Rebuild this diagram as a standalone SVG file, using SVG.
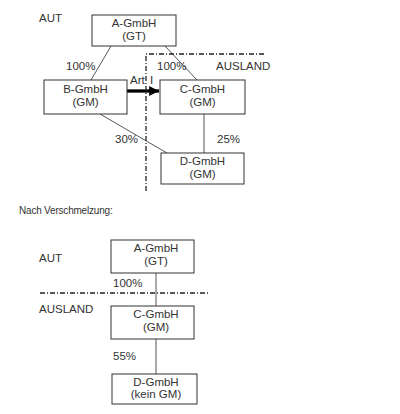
<svg xmlns="http://www.w3.org/2000/svg" width="400" height="414" viewBox="0 0 400 414">
<style>
text{font-family:"Liberation Sans",Arial,sans-serif;font-size:11.5px;fill:#333}
.c{text-anchor:middle}
.box{fill:#fff;stroke:#333;stroke-width:1}
.ln{stroke:#444;stroke-width:0.9;fill:none}
.dd{stroke:#222;stroke-width:1.3;stroke-dasharray:5,2,1,2;fill:none}
</style>
<defs>
<marker id="ah" markerWidth="3" markerHeight="3" refX="3" refY="1.5" orient="auto" markerUnits="strokeWidth"><path d="M0,0 L3,1.5 L0,3 z" fill="#000"/></marker>
</defs>
<rect width="400" height="414" fill="#fff"/>
<g id="connectors">
<line class="ln" x1="111" y1="46" x2="91" y2="80"/>
<line class="ln" x1="165" y1="46" x2="197" y2="80"/>
<line class="ln" x1="100" y1="114" x2="167" y2="153"/>
<line class="ln" x1="204" y1="114" x2="204" y2="153"/>
<line x1="127" y1="91" x2="159" y2="91" stroke="#000" stroke-width="3.3" marker-end="url(#ah)"/>
<line class="ln" x1="156" y1="273" x2="156" y2="306"/>
<line class="ln" x1="156" y1="339" x2="156" y2="374"/>
</g>
<g id="borders">
<polyline class="dd" points="146,191 146,54 265,54"/>
<line class="dd" x1="40" y1="293" x2="208" y2="293"/>
</g>
<g id="A1"><rect class="box" x="92" y="15" width="84" height="31"/><text class="c" x="134" y="27">A-GmbH</text><text class="c" x="134" y="40">(GT)</text></g>
<g id="B1"><rect class="box" x="44" y="80" width="83" height="34"/><text class="c" x="85.5" y="93">B-GmbH</text><text class="c" x="85.5" y="106">(GM)</text></g>
<g id="C1"><rect class="box" x="160" y="80" width="85" height="34"/><text class="c" x="202.5" y="93">C-GmbH</text><text class="c" x="202.5" y="106">(GM)</text></g>
<g id="D1"><rect class="box" x="161" y="153" width="83" height="31"/><text class="c" x="202.5" y="165">D-GmbH</text><text class="c" x="202.5" y="178">(GM)</text></g>
<g id="labels1">
<text x="39" y="22">AUT</text>
<text x="66" y="70">100%</text>
<text x="157" y="70">100%</text>
<text x="216" y="70">AUSLAND</text>
<text x="130" y="84">Art</text>
<text x="150" y="84">I</text>
<text x="115" y="143">30%</text>
<text x="217" y="143">25%</text>
</g>
<text x="19" y="214" style="font-size:10px;letter-spacing:-0.2px">Nach Verschmelzung:</text>
<g id="A2"><rect class="box" x="111" y="240" width="83" height="33"/><text class="c" x="156" y="252">A-GmbH</text><text class="c" x="156" y="265">(GT)</text></g>
<g id="C2"><rect class="box" x="111" y="306" width="83" height="33"/><text class="c" x="156" y="318">C-GmbH</text><text class="c" x="156" y="331">(GM)</text></g>
<g id="D2"><rect class="box" x="112" y="374" width="85" height="30"/><text class="c" x="156" y="386">D-GmbH</text><text class="c" x="156" y="398">(kein GM)</text></g>
<g id="labels2">
<text x="39" y="262">AUT</text>
<text x="113" y="287">100%</text>
<text x="39" y="313">AUSLAND</text>
<text x="113" y="360">55%</text>
</g>
</svg>
